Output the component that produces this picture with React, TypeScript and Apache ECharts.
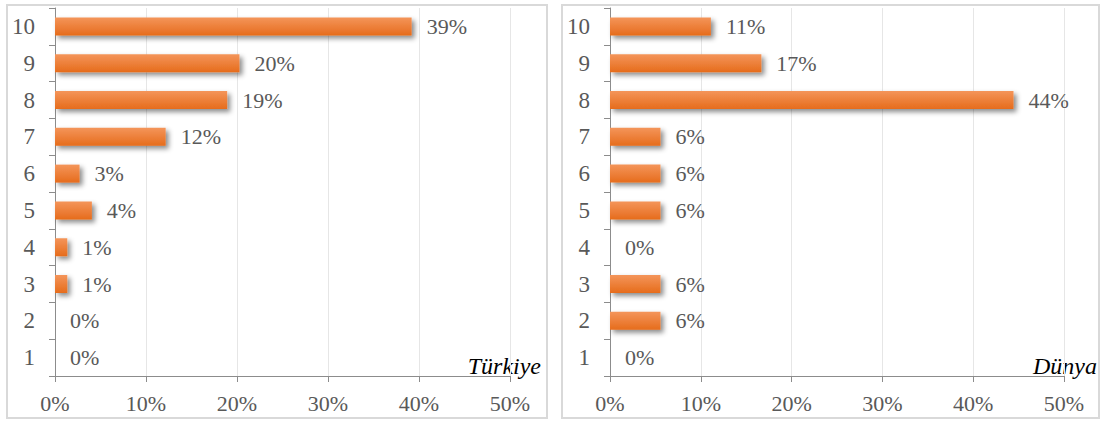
import React, { useEffect, useRef } from "react";
import * as echarts from "echarts";

// Score categories 1..10 (bottom to top)
const categories = ["1", "2", "3", "4", "5", "6", "7", "8", "9", "10"];
// Share of answers per score, percent
const turkiyeValues = [0, 0, 1.35, 1.35, 4.05, 2.7, 12.16, 18.92, 20.27, 39.19];
const dunyaValues = [0, 5.56, 5.56, 0, 5.56, 5.56, 5.56, 44.44, 16.67, 11.11];
const xTicks = [0, 10, 20, 30, 40, 50];
const panelTitles = ["Türkiye", "Dünya"];

const FONT = "Liberation Serif";
const TEXT = "#595959";

export default function App() {
  const ref = useRef<HTMLDivElement>(null);

  useEffect(() => {
    if (!ref.current) return;
    const chart = echarts.init(ref.current, null, { renderer: "svg" });

    const barColor = new echarts.graphic.LinearGradient(0, 0, 0, 1, [
      { offset: 0, color: "#F4955A" },
      { offset: 1, color: "#E66C1C" },
    ]);

    const grids = [
      { left: 55, top: 8, width: 455, height: 368 },
      { left: 610, top: 8, width: 454, height: 368 },
    ];

    const xAxis = grids.map((_, i) => ({
      type: "value",
      gridIndex: i,
      min: xTicks[0],
      max: xTicks[xTicks.length - 1],
      interval: 10,
      axisLine: { show: true, lineStyle: { color: "#8C8C8C", width: 1 } },
      axisTick: { show: true, length: 6, lineStyle: { color: "#8C8C8C" } },
      splitLine: { show: true, lineStyle: { color: "#E6E6E6", width: 1 } },
      axisLabel: {
        formatter: (v: number) => `${v}%`,
        fontFamily: FONT,
        fontSize: 22,
        color: TEXT,
        margin: 16,
      },
    }));

    const yAxis = grids.map((_, i) => ({
      type: "category",
      gridIndex: i,
      data: categories,
      axisLine: { show: true, lineStyle: { color: "#8C8C8C", width: 1 } },
      axisTick: { show: true, length: 6, alignWithLabel: false, lineStyle: { color: "#8C8C8C" } },
      splitLine: { show: false },
      axisLabel: {
        fontFamily: FONT,
        fontSize: 23,
        color: TEXT,
        margin: 20,
      },
    }));

    const makeSeries = (data: number[], i: number) => ({
      type: "bar",
      xAxisIndex: i,
      yAxisIndex: i,
      data,
      barWidth: 18,
      itemStyle: {
        color: barColor,
        shadowColor: "rgba(0,0,0,0.45)",
        shadowBlur: 5,
        shadowOffsetX: 3,
        shadowOffsetY: 3,
      },
      label: {
        show: true,
        position: "right",
        distance: 15,
        formatter: (p: any) => `${Math.round(p.value)}%`,
        fontFamily: FONT,
        fontSize: 22,
        color: TEXT,
      },
    });

    const titleText = (text: string, x: number) => ({
      type: "text",
      x,
      y: 366,
      style: {
        text,
        fontFamily: FONT,
        fontStyle: "italic",
        fontSize: 24,
        fill: "#000000",
        align: "right",
        verticalAlign: "middle",
      },
    });

    chart.setOption({
      animation: false,
      backgroundColor: "#ffffff",
      grid: grids,
      xAxis,
      yAxis,
      series: [makeSeries(turkiyeValues, 0), makeSeries(dunyaValues, 1)],
      graphic: [
        {
          type: "rect",
          shape: { x: 7, y: 5, width: 540, height: 413 },
          style: { fill: "none", stroke: "#D9D9D9", lineWidth: 2 },
          z: -1,
        },
        {
          type: "rect",
          shape: { x: 562, y: 5, width: 537, height: 413 },
          style: { fill: "none", stroke: "#D9D9D9", lineWidth: 2 },
          z: -1,
        },
        titleText(panelTitles[0], 541),
        titleText(panelTitles[1], 1097),
      ],
    });

    return () => chart.dispose();
  }, []);

  return (
    <div
      ref={ref}
      style={{ position: "absolute", left: 0, top: 0, width: 1101, height: 423 }}
    />
  );
}
